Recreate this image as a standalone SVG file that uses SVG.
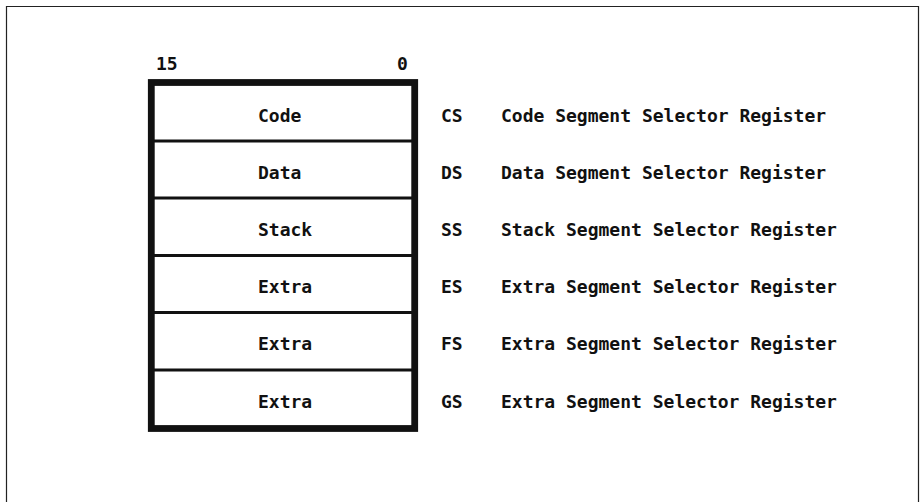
<svg xmlns="http://www.w3.org/2000/svg" width="924" height="502" viewBox="0 0 924 502">
  <style>
    .t { font-family: "DejaVu Sans Mono", "Liberation Mono", monospace; font-size: 18px; font-weight: bold; fill: #111; }
    .div { stroke: #111; stroke-width: 3; }
  </style>
  <rect width="924" height="502" fill="#fff"/>
  <!-- page frame, open at the bottom -->
  <path d="M6.5 510 V6.5 H918.5 V510" fill="none" stroke="#222" stroke-width="1.2"/>

  <!-- bit numbers -->
  <text class="t" x="156" y="70">15</text>
  <text class="t" x="397" y="70">0</text>

  <!-- register stack -->
  <g id="registers">
    <rect x="151.3" y="82.5" width="263.4" height="346" fill="#fff" stroke="#111" stroke-width="6.8"/>
    <line class="div" x1="154" y1="141" x2="412" y2="141"/>
    <line class="div" x1="154" y1="198" x2="412" y2="198"/>
    <line class="div" x1="154" y1="255.5" x2="412" y2="255.5"/>
    <line class="div" x1="154" y1="312.5" x2="412" y2="312.5"/>
    <line class="div" x1="154" y1="370" x2="412" y2="370"/>
  </g>

  <g id="cs">
    <text class="t" x="258" y="121.5">Code</text>
    <text class="t" x="441" y="121.5">CS</text>
    <text class="t" x="501" y="121.5">Code Segment Selector Register</text>
  </g>
  <g id="ds">
    <text class="t" x="258" y="178.7">Data</text>
    <text class="t" x="441" y="178.7">DS</text>
    <text class="t" x="501" y="178.7">Data Segment Selector Register</text>
  </g>
  <g id="ss">
    <text class="t" x="258" y="235.9">Stack</text>
    <text class="t" x="441" y="235.9">SS</text>
    <text class="t" x="501" y="235.9">Stack Segment Selector Register</text>
  </g>
  <g id="es">
    <text class="t" x="258" y="293.1">Extra</text>
    <text class="t" x="441" y="293.1">ES</text>
    <text class="t" x="501" y="293.1">Extra Segment Selector Register</text>
  </g>
  <g id="fs">
    <text class="t" x="258" y="350.3">Extra</text>
    <text class="t" x="441" y="350.3">FS</text>
    <text class="t" x="501" y="350.3">Extra Segment Selector Register</text>
  </g>
  <g id="gs">
    <text class="t" x="258" y="407.5">Extra</text>
    <text class="t" x="441" y="407.5">GS</text>
    <text class="t" x="501" y="407.5">Extra Segment Selector Register</text>
  </g>
  <g id="connectors"/>
</svg>
